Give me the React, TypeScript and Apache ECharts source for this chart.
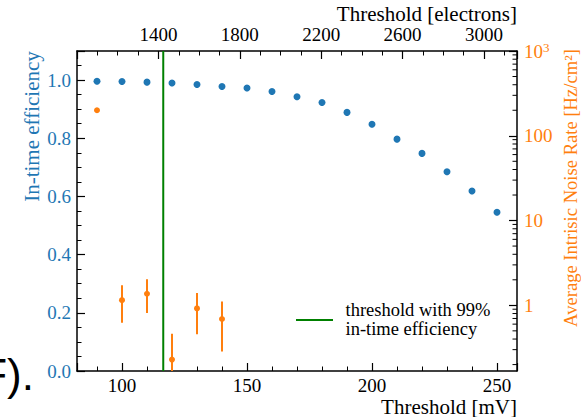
import React, { useEffect, useRef } from 'react';
import * as echarts from 'echarts';

// ---- data ----
const thresholdsMV = [90, 100, 110, 120, 130, 140, 150, 160, 170, 180, 190, 200, 210, 220, 230, 240, 250];
const efficiency = [0.996, 0.995, 0.993, 0.990, 0.985, 0.978, 0.973, 0.961, 0.943, 0.923, 0.889, 0.848, 0.797, 0.748, 0.685, 0.619, 0.546];

const noiseMV = [90, 100, 110, 120, 130, 140];
const noiseRate = [200, 1.15, 1.37, 0.229, 0.92, 0.69];
const noiseLow = [200, 0.625, 0.81, 0.001, 0.455, 0.286];
const noiseHigh = [200, 1.72, 2.03, 0.463, 1.40, 1.11];

const threshold99 = 116.5;

const rightMinorTicks = [0.2, 0.3, 0.4, 0.5, 0.6, 0.7, 0.8, 0.9, 2, 3, 4, 5, 6, 7, 8, 9, 20, 30, 40, 50, 60, 70, 80, 90, 200, 300, 400, 500, 600, 700, 800, 900];

const FONT = '"Liberation Serif", "Times New Roman", serif';
const BLUE = '#1f77b4';
const ORANGE = '#ff7f0e';
const GREEN = '#008000';

const axisLineStyle = { color: '#000', width: 1.5 };

function buildOption(): any {
  return {
    animation: false,
    backgroundColor: '#fff',
    grid: { left: 77, top: 51, width: 440, height: 320, containLabel: false },
    xAxis: [
      {
        type: 'value',
        position: 'bottom',
        min: 82,
        max: 258,
        splitNumber: 4,
        axisLine: { show: true, onZero: false, lineStyle: axisLineStyle },
        axisTick: { show: true, inside: true, length: 8, lineStyle: { color: '#000', width: 1.2 } },
        minorTick: { show: true, splitNumber: 5, length: 4.5, lineStyle: { color: '#000', width: 1 } },
        axisLabel: {
          show: true, showMinLabel: false, showMaxLabel: false, margin: 5, color: '#000', fontFamily: FONT, fontSize: 19,
          formatter: (v: number) => String(Math.round(v)),
        },
        splitLine: { show: false },
        minorSplitLine: { show: false },
      },
      {
        type: 'value',
        position: 'top',
        min: 1000,
        max: 3162,
        interval: 400,
        axisLine: { show: true, onZero: false, lineStyle: axisLineStyle },
        axisTick: { show: true, inside: true, length: 8, lineStyle: { color: '#000', width: 1.2 } },
        minorTick: { show: true, splitNumber: 4, length: 4.5, lineStyle: { color: '#000', width: 1 } },
        axisLabel: {
          show: true, showMinLabel: false, showMaxLabel: false, margin: 9, lineHeight: 15, color: '#000', fontFamily: FONT, fontSize: 19,
          formatter: (v: number) => String(Math.round(v)),
        },
        splitLine: { show: false },
        minorSplitLine: { show: false },
      },
    ],
    yAxis: [
      {
        type: 'value',
        position: 'left',
        min: 0,
        max: 1.1,
        interval: 0.2,
        axisLine: { show: true, onZero: false, lineStyle: axisLineStyle },
        axisTick: { show: true, inside: true, length: 8, lineStyle: { color: '#000', width: 1.2 } },
        minorTick: { show: true, splitNumber: 4, length: 4.5, lineStyle: { color: '#000', width: 1 } },
        axisLabel: {
          show: true, showMaxLabel: false, margin: 6, color: BLUE, fontFamily: FONT, fontSize: 19,
          formatter: (v: number) => v.toFixed(1),
        },
        splitLine: { show: false },
        minorSplitLine: { show: false },
      },
      {
        type: 'log',
        logBase: 10,
        position: 'right',
        min: 0.168,
        max: 1000,
        axisLine: { show: true, onZero: false, lineStyle: axisLineStyle },
        axisTick: { show: true, inside: true, length: 8, lineStyle: { color: '#000', width: 1.2 } },
        minorTick: { show: false },
        axisLabel: {
          show: true, showMinLabel: false, margin: 7, color: ORANGE, fontFamily: FONT, fontSize: 19,
          formatter: (v: number) => {
            const r = Math.round(v);
            if (r === 1000) return '10{sup|3}';
            return String(r);
          },
          rich: {
            sup: { fontSize: 13, color: ORANGE, fontFamily: FONT, verticalAlign: 'top', padding: [0, 0, 8, 0] },
          },
        },
        splitLine: { show: false },
        minorSplitLine: { show: false },
      },
    ],
    series: [
      {
        type: 'line',
        name: 'threshold with 99% in-time efficiency',
        xAxisIndex: 0,
        yAxisIndex: 0,
        data: [[threshold99, 0], [threshold99, 1.1]],
        symbol: 'none',
        lineStyle: { color: GREEN, width: 2 },
        itemStyle: { color: GREEN },
        silent: true,
        z: 2,
      },
      {
        type: 'scatter',
        name: 'In-time efficiency',
        xAxisIndex: 0,
        yAxisIndex: 0,
        data: thresholdsMV.map((x, i) => [x, efficiency[i]]),
        symbolSize: 7,
        itemStyle: { color: BLUE, opacity: 1 },
        z: 3,
      },
      {
        type: 'custom',
        name: 'noise error',
        xAxisIndex: 0,
        yAxisIndex: 1,
        clip: true,
        silent: true,
        data: noiseMV.map((x, i) => [x, noiseLow[i], noiseHigh[i]]),
        encode: { x: 0, y: [1, 2] },
        renderItem: (params: any, api: any) => {
          const p1 = api.coord([api.value(0), api.value(1)]);
          const p2 = api.coord([api.value(0), api.value(2)]);
          return {
            type: 'line',
            shape: { x1: p1[0], y1: p1[1], x2: p2[0], y2: p2[1] },
            style: { stroke: ORANGE, lineWidth: 2 },
          };
        },
        z: 3,
      },
      {
        type: 'scatter',
        name: 'Noise rate',
        xAxisIndex: 0,
        yAxisIndex: 1,
        data: noiseMV.map((x, i) => [x, noiseRate[i]]),
        symbolSize: 6,
        itemStyle: { color: ORANGE, opacity: 1 },
        z: 4,
      },
      {
        type: 'custom',
        name: 'log minor ticks',
        xAxisIndex: 0,
        yAxisIndex: 1,
        silent: true,
        clip: false,
        data: rightMinorTicks.map((v) => [258, v]),
        renderItem: (params: any, api: any) => {
          const p = api.coord([api.value(0), api.value(1)]);
          return {
            type: 'line',
            shape: { x1: p[0] - 4.5, y1: p[1], x2: p[0], y2: p[1] },
            style: { stroke: '#000', lineWidth: 1 },
          };
        },
        z: 5,
      },
    ],
    graphic: [
      {
        type: 'text',
        x: 31.7,
        y: 126.5,
        rotation: Math.PI / 2,
        style: { text: 'In-time efficiency', fill: BLUE, fontFamily: FONT, fontSize: 21, align: 'center', verticalAlign: 'middle' },
      },
      {
        type: 'text',
        x: 570.7,
        y: 188,
        rotation: Math.PI / 2,
        style: { text: 'Average Intrisic Noise Rate [Hz/cm²]', fill: ORANGE, fontFamily: FONT, fontSize: 18.6, align: 'center', verticalAlign: 'middle' },
      },
      {
        type: 'text',
        x: 517,
        y: 14,
        style: { text: 'Threshold [electrons]', fill: '#000', fontFamily: FONT, fontSize: 21, lineHeight: 18, align: 'right', verticalAlign: 'middle' },
      },
      {
        type: 'text',
        x: 517,
        y: 406.5,
        style: { text: 'Threshold [mV]', fill: '#000', fontFamily: FONT, fontSize: 21, lineHeight: 18, align: 'right', verticalAlign: 'middle' },
      },
      {
        type: 'line',
        shape: { x1: 296, y1: 320, x2: 333, y2: 320 },
        style: { stroke: GREEN, lineWidth: 2 },
      },
      {
        type: 'text',
        x: 345.5,
        y: 319.5,
        style: { text: 'threshold with 99%\nin-time efficiency', fill: '#000', fontFamily: FONT, fontSize: 18.5, lineHeight: 19, align: 'left', verticalAlign: 'middle' },
      },
      {
        type: 'text',
        x: 34,
        y: 374,
        style: { text: 'F).', fill: '#000', fontFamily: '"Liberation Sans", Arial, sans-serif', fontSize: 44, align: 'right', verticalAlign: 'middle' },
      },
    ],
  };
}

export default function App() {
  const ref = useRef<HTMLDivElement>(null);
  useEffect(() => {
    if (!ref.current) return;
    const chart = echarts.init(ref.current, null, { renderer: 'svg' });
    chart.setOption(buildOption());
    return () => {
      chart.dispose();
    };
  }, []);
  return <div ref={ref} style={{ position: 'fixed', left: 0, top: 0, width: 581, height: 417, background: '#fff' }} />;
}
